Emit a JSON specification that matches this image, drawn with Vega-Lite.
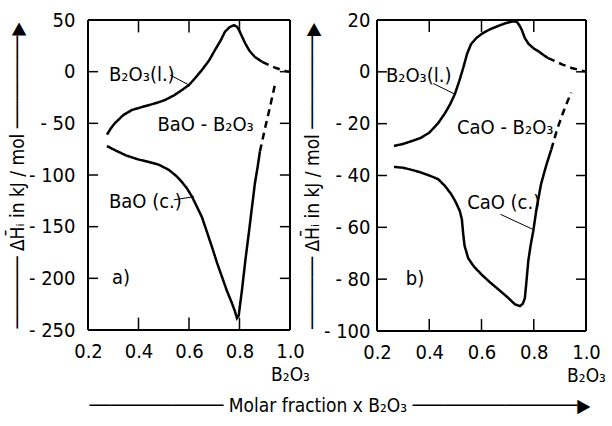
{
  "$schema": "https://vega.github.io/schema/vega-lite/v6.json",
  "background": "white",
  "padding": {"left": 8, "top": 10, "right": 0, "bottom": 0},
  "spacing": -7,
  "config": {
    "font": "DejaVu Sans Condensed, sans-serif",
    "view": {"stroke": null},
    "axis": {
      "domain": false, "grid": false, "ticks": false, "labelFlush": false,
      "labelColor": "black", "labelFontSize": 20, "labelFont": "DejaVu Sans Condensed, sans-serif",
      "titleColor": "black", "titleFontWeight": "normal", "titleFontSize": 19, "titleFont": "DejaVu Sans Condensed, sans-serif"
    },
    "text": {"font": "DejaVu Sans Condensed, sans-serif", "fontSize": 20, "color": "black"}
  },
  "title": {
    "text": "───────────── Molar fraction x B₂O₃ ────────────────▶",
    "orient": "bottom", "anchor": "middle", "fontSize": 19, "fontWeight": "normal", "color": "black", "offset": 12, "dx": 33,
    "font": "DejaVu Sans Condensed, sans-serif"
  },
  "datasets": {
    "curvesA": [
      {"x": 0.275, "y": -61, "part": "u-solid", "style": "solid"},
      {"x": 0.29, "y": -55, "part": "u-solid", "style": "solid"},
      {"x": 0.307, "y": -49.7, "part": "u-solid", "style": "solid"},
      {"x": 0.34, "y": -42, "part": "u-solid", "style": "solid"},
      {"x": 0.374, "y": -37.1, "part": "u-solid", "style": "solid"},
      {"x": 0.41, "y": -34.5, "part": "u-solid", "style": "solid"},
      {"x": 0.442, "y": -32.3, "part": "u-solid", "style": "solid"},
      {"x": 0.475, "y": -30, "part": "u-solid", "style": "solid"},
      {"x": 0.505, "y": -27.4, "part": "u-solid", "style": "solid"},
      {"x": 0.54, "y": -23, "part": "u-solid", "style": "solid"},
      {"x": 0.572, "y": -17.8, "part": "u-solid", "style": "solid"},
      {"x": 0.6, "y": -12.9, "part": "u-solid", "style": "solid"},
      {"x": 0.625, "y": -6, "part": "u-solid", "style": "solid"},
      {"x": 0.651, "y": 1.6, "part": "u-solid", "style": "solid"},
      {"x": 0.68, "y": 11, "part": "u-solid", "style": "solid"},
      {"x": 0.703, "y": 21, "part": "u-solid", "style": "solid"},
      {"x": 0.725, "y": 30, "part": "u-solid", "style": "solid"},
      {"x": 0.742, "y": 38.4, "part": "u-solid", "style": "solid"},
      {"x": 0.76, "y": 43, "part": "u-solid", "style": "solid"},
      {"x": 0.778, "y": 45, "part": "u-solid", "style": "solid"},
      {"x": 0.79, "y": 43.5, "part": "u-solid", "style": "solid"},
      {"x": 0.798, "y": 40.3, "part": "u-solid", "style": "solid"},
      {"x": 0.81, "y": 34, "part": "u-solid", "style": "solid"},
      {"x": 0.822, "y": 27.7, "part": "u-solid", "style": "solid"},
      {"x": 0.84, "y": 20, "part": "u-solid", "style": "solid"},
      {"x": 0.861, "y": 14.2, "part": "u-solid", "style": "solid"},
      {"x": 0.89, "y": 9.5, "part": "u-solid", "style": "solid"},
      {"x": 0.89, "y": 9.5, "part": "u-dash", "style": "dashed"},
      {"x": 0.917, "y": 6.4, "part": "u-dash", "style": "dashed"},
      {"x": 0.945, "y": 3.5, "part": "u-dash", "style": "dashed"},
      {"x": 0.968, "y": 1.6, "part": "u-dash", "style": "dashed"},
      {"x": 0.985, "y": 0.5, "part": "u-dash", "style": "dashed"},
      {"x": 1.0, "y": 0, "part": "u-dash", "style": "dashed"},
      {"x": 0.275, "y": -72, "part": "l-solid", "style": "solid"},
      {"x": 0.307, "y": -76, "part": "l-solid", "style": "solid"},
      {"x": 0.35, "y": -81, "part": "l-solid", "style": "solid"},
      {"x": 0.4, "y": -85, "part": "l-solid", "style": "solid"},
      {"x": 0.442, "y": -87.4, "part": "l-solid", "style": "solid"},
      {"x": 0.48, "y": -90, "part": "l-solid", "style": "solid"},
      {"x": 0.52, "y": -95, "part": "l-solid", "style": "solid"},
      {"x": 0.55, "y": -101, "part": "l-solid", "style": "solid"},
      {"x": 0.572, "y": -106.8, "part": "l-solid", "style": "solid"},
      {"x": 0.592, "y": -113, "part": "l-solid", "style": "solid"},
      {"x": 0.612, "y": -121, "part": "l-solid", "style": "solid"},
      {"x": 0.63, "y": -130, "part": "l-solid", "style": "solid"},
      {"x": 0.651, "y": -140.7, "part": "l-solid", "style": "solid"},
      {"x": 0.671, "y": -155, "part": "l-solid", "style": "solid"},
      {"x": 0.691, "y": -169.7, "part": "l-solid", "style": "solid"},
      {"x": 0.711, "y": -185, "part": "l-solid", "style": "solid"},
      {"x": 0.731, "y": -198.8, "part": "l-solid", "style": "solid"},
      {"x": 0.75, "y": -212, "part": "l-solid", "style": "solid"},
      {"x": 0.77, "y": -224, "part": "l-solid", "style": "solid"},
      {"x": 0.782, "y": -232, "part": "l-solid", "style": "solid"},
      {"x": 0.79, "y": -238.5, "part": "l-solid", "style": "solid"},
      {"x": 0.797, "y": -236, "part": "l-solid", "style": "solid"},
      {"x": 0.803, "y": -224, "part": "l-solid", "style": "solid"},
      {"x": 0.81, "y": -211, "part": "l-solid", "style": "solid"},
      {"x": 0.823, "y": -183, "part": "l-solid", "style": "solid"},
      {"x": 0.837, "y": -156, "part": "l-solid", "style": "solid"},
      {"x": 0.85, "y": -130, "part": "l-solid", "style": "solid"},
      {"x": 0.861, "y": -108, "part": "l-solid", "style": "solid"},
      {"x": 0.872, "y": -92, "part": "l-solid", "style": "solid"},
      {"x": 0.881, "y": -77, "part": "l-solid", "style": "solid"},
      {"x": 0.881, "y": -77, "part": "l-dash", "style": "dashed"},
      {"x": 0.9, "y": -56, "part": "l-dash", "style": "dashed"},
      {"x": 0.92, "y": -35, "part": "l-dash", "style": "dashed"},
      {"x": 0.94, "y": -13, "part": "l-dash", "style": "dashed"}
    ],
    "curvesB": [
      {"x": 0.265, "y": -28.6, "part": "u-solid", "style": "solid"},
      {"x": 0.3, "y": -27.8, "part": "u-solid", "style": "solid"},
      {"x": 0.34, "y": -26.5, "part": "u-solid", "style": "solid"},
      {"x": 0.367, "y": -25.5, "part": "u-solid", "style": "solid"},
      {"x": 0.4, "y": -23.5, "part": "u-solid", "style": "solid"},
      {"x": 0.434, "y": -19.8, "part": "u-solid", "style": "solid"},
      {"x": 0.46, "y": -16, "part": "u-solid", "style": "solid"},
      {"x": 0.48, "y": -12.5, "part": "u-solid", "style": "solid"},
      {"x": 0.498, "y": -8.6, "part": "u-solid", "style": "solid"},
      {"x": 0.515, "y": -3.5, "part": "u-solid", "style": "solid"},
      {"x": 0.53, "y": 1.5, "part": "u-solid", "style": "solid"},
      {"x": 0.545, "y": 7, "part": "u-solid", "style": "solid"},
      {"x": 0.56, "y": 10.7, "part": "u-solid", "style": "solid"},
      {"x": 0.58, "y": 13, "part": "u-solid", "style": "solid"},
      {"x": 0.6, "y": 14.6, "part": "u-solid", "style": "solid"},
      {"x": 0.63, "y": 16.3, "part": "u-solid", "style": "solid"},
      {"x": 0.664, "y": 17.7, "part": "u-solid", "style": "solid"},
      {"x": 0.69, "y": 18.7, "part": "u-solid", "style": "solid"},
      {"x": 0.72, "y": 19.5, "part": "u-solid", "style": "solid"},
      {"x": 0.735, "y": 19.3, "part": "u-solid", "style": "solid"},
      {"x": 0.745, "y": 18, "part": "u-solid", "style": "solid"},
      {"x": 0.755, "y": 16, "part": "u-solid", "style": "solid"},
      {"x": 0.766, "y": 13, "part": "u-solid", "style": "solid"},
      {"x": 0.78, "y": 10.8, "part": "u-solid", "style": "solid"},
      {"x": 0.8, "y": 9, "part": "u-solid", "style": "solid"},
      {"x": 0.817, "y": 8, "part": "u-solid", "style": "solid"},
      {"x": 0.84, "y": 6.3, "part": "u-solid", "style": "solid"},
      {"x": 0.855, "y": 5.3, "part": "u-solid", "style": "solid"},
      {"x": 0.855, "y": 5.3, "part": "u-dash", "style": "dashed"},
      {"x": 0.88, "y": 4.2, "part": "u-dash", "style": "dashed"},
      {"x": 0.91, "y": 2.8, "part": "u-dash", "style": "dashed"},
      {"x": 0.945, "y": 1.5, "part": "u-dash", "style": "dashed"},
      {"x": 0.97, "y": 0.8, "part": "u-dash", "style": "dashed"},
      {"x": 0.99, "y": 0.3, "part": "u-dash", "style": "dashed"},
      {"x": 1.0, "y": 0.2, "part": "u-dash", "style": "dashed"},
      {"x": 0.265, "y": -36.7, "part": "l-solid", "style": "solid"},
      {"x": 0.3, "y": -37, "part": "l-solid", "style": "solid"},
      {"x": 0.34, "y": -38, "part": "l-solid", "style": "solid"},
      {"x": 0.367, "y": -38.8, "part": "l-solid", "style": "solid"},
      {"x": 0.4, "y": -40, "part": "l-solid", "style": "solid"},
      {"x": 0.434, "y": -41.4, "part": "l-solid", "style": "solid"},
      {"x": 0.46, "y": -44, "part": "l-solid", "style": "solid"},
      {"x": 0.484, "y": -47.2, "part": "l-solid", "style": "solid"},
      {"x": 0.5, "y": -50, "part": "l-solid", "style": "solid"},
      {"x": 0.517, "y": -53.7, "part": "l-solid", "style": "solid"},
      {"x": 0.525, "y": -57, "part": "l-solid", "style": "solid"},
      {"x": 0.53, "y": -62.6, "part": "l-solid", "style": "solid"},
      {"x": 0.535, "y": -67, "part": "l-solid", "style": "solid"},
      {"x": 0.549, "y": -71.9, "part": "l-solid", "style": "solid"},
      {"x": 0.57, "y": -75, "part": "l-solid", "style": "solid"},
      {"x": 0.598, "y": -78, "part": "l-solid", "style": "solid"},
      {"x": 0.63, "y": -81, "part": "l-solid", "style": "solid"},
      {"x": 0.664, "y": -83.9, "part": "l-solid", "style": "solid"},
      {"x": 0.7, "y": -87, "part": "l-solid", "style": "solid"},
      {"x": 0.728, "y": -89.7, "part": "l-solid", "style": "solid"},
      {"x": 0.747, "y": -90.4, "part": "l-solid", "style": "solid"},
      {"x": 0.758, "y": -89.5, "part": "l-solid", "style": "solid"},
      {"x": 0.766, "y": -87.3, "part": "l-solid", "style": "solid"},
      {"x": 0.772, "y": -81, "part": "l-solid", "style": "solid"},
      {"x": 0.779, "y": -73, "part": "l-solid", "style": "solid"},
      {"x": 0.788, "y": -67, "part": "l-solid", "style": "solid"},
      {"x": 0.798, "y": -61.5, "part": "l-solid", "style": "solid"},
      {"x": 0.812, "y": -52, "part": "l-solid", "style": "solid"},
      {"x": 0.828, "y": -43.3, "part": "l-solid", "style": "solid"},
      {"x": 0.848, "y": -36, "part": "l-solid", "style": "solid"},
      {"x": 0.867, "y": -30, "part": "l-solid", "style": "solid"},
      {"x": 0.867, "y": -30, "part": "l-dash", "style": "dashed"},
      {"x": 0.89, "y": -22, "part": "l-dash", "style": "dashed"},
      {"x": 0.915, "y": -15, "part": "l-dash", "style": "dashed"},
      {"x": 0.943, "y": -8, "part": "l-dash", "style": "dashed"}
    ],
    "labelsA": [
      {"x": 0.283, "y": -3, "text": "B₂O₃(l.)"},
      {"x": 0.475, "y": -52, "text": "BaO - B₂O₃"},
      {"x": 0.283, "y": -126, "text": "BaO (c.)"},
      {"x": 0.295, "y": -200, "text": "a)"}
    ],
    "labelsB": [
      {"x": 0.234, "y": -1.6, "text": "B₂O₃(l.)"},
      {"x": 0.506, "y": -21.7, "text": "CaO - B₂O₃"},
      {"x": 0.545, "y": -50.7, "text": "CaO (c.)"},
      {"x": 0.31, "y": -80, "text": "b)"}
    ],
    "leadersA": [
      {"x": 0.525, "y": -3.2, "x2": 0.6, "y2": -12.9},
      {"x": 0.54, "y": -124, "x2": 0.62, "y2": -121}
    ],
    "leadersB": [
      {"x": 0.415, "y": -4.5, "x2": 0.498, "y2": -8.6},
      {"x": 0.673, "y": -55, "x2": 0.795, "y2": -60.7}
    ],
    "edgesA": [
      {"x": 0.2, "y": -250, "x2": 1.0, "y2": -250},
      {"x": 0.2, "y": 50, "x2": 1.0, "y2": 50},
      {"x": 0.2, "y": -250, "x2": 0.2, "y2": 50},
      {"x": 1.0, "y": -250, "x2": 1.0, "y2": 50}
    ],
    "edgesB": [
      {"x": 0.2, "y": -100, "x2": 1.0, "y2": -100},
      {"x": 0.2, "y": 20, "x2": 1.0, "y2": 20},
      {"x": 0.2, "y": -100, "x2": 0.2, "y2": 20},
      {"x": 1.0, "y": -100, "x2": 1.0, "y2": 20}
    ],
    "ticksA": [
      {"x": 0.4, "y": -250, "x2": 0.4, "y2": -238},
      {"x": 0.6, "y": -250, "x2": 0.6, "y2": -238},
      {"x": 0.8, "y": -250, "x2": 0.8, "y2": -238},
      {"x": 0.4, "y": 50, "x2": 0.4, "y2": 38},
      {"x": 0.6, "y": 50, "x2": 0.6, "y2": 38},
      {"x": 0.8, "y": 50, "x2": 0.8, "y2": 38},
      {"x": 0.2, "y": -200, "x2": 0.24, "y2": -200},
      {"x": 0.2, "y": -150, "x2": 0.24, "y2": -150},
      {"x": 0.2, "y": -100, "x2": 0.24, "y2": -100},
      {"x": 0.2, "y": -50, "x2": 0.24, "y2": -50},
      {"x": 0.2, "y": 0, "x2": 0.24, "y2": 0},
      {"x": 1.0, "y": -200, "x2": 0.96, "y2": -200},
      {"x": 1.0, "y": -150, "x2": 0.96, "y2": -150},
      {"x": 1.0, "y": -100, "x2": 0.96, "y2": -100},
      {"x": 1.0, "y": -50, "x2": 0.96, "y2": -50},
      {"x": 1.0, "y": 0, "x2": 0.96, "y2": 0}
    ],
    "ticksB": [
      {"x": 0.4, "y": -100, "x2": 0.4, "y2": -95.4},
      {"x": 0.6, "y": -100, "x2": 0.6, "y2": -95.4},
      {"x": 0.8, "y": -100, "x2": 0.8, "y2": -95.4},
      {"x": 0.4, "y": 20, "x2": 0.4, "y2": 15.4},
      {"x": 0.6, "y": 20, "x2": 0.6, "y2": 15.4},
      {"x": 0.8, "y": 20, "x2": 0.8, "y2": 15.4},
      {"x": 0.2, "y": -80, "x2": 0.238, "y2": -80},
      {"x": 0.2, "y": -60, "x2": 0.238, "y2": -60},
      {"x": 0.2, "y": -40, "x2": 0.238, "y2": -40},
      {"x": 0.2, "y": -20, "x2": 0.238, "y2": -20},
      {"x": 0.2, "y": 0, "x2": 0.238, "y2": 0},
      {"x": 1.0, "y": -80, "x2": 0.962, "y2": -80},
      {"x": 1.0, "y": -60, "x2": 0.962, "y2": -60},
      {"x": 1.0, "y": -40, "x2": 0.962, "y2": -40},
      {"x": 1.0, "y": -20, "x2": 0.962, "y2": -20},
      {"x": 1.0, "y": 0, "x2": 0.962, "y2": 0}
    ]
  },
  "hconcat": [
    {
      "width": 202, "height": 310,
      "layer": [
        {
          "data": {"name": "curvesA"},
          "mark": {"type": "line", "color": "black", "strokeWidth": 2.5},
          "encoding": {
            "x": {"field": "x", "type": "quantitative", "scale": {"domain": [0.2, 1.0], "nice": false, "zero": false},
                  "axis": {"orient": "bottom", "values": [0.2, 0.4, 0.6, 0.8, 1.0], "format": ".1f", "labelPadding": 11, "title": "B₂O₃", "titleAnchor": "end", "titleAlign": "center", "titlePadding": 4}},
            "y": {"field": "y", "type": "quantitative", "scale": {"domain": [-250, 50], "nice": false, "zero": false},
                  "axis": {"orient": "left", "values": [-250, -200, -150, -100, -50, 0, 50], "labelExpr": "datum.value < 0 ? '- ' + abs(datum.value) : datum.value", "labelPadding": 13, "title": "───────  ΔH̄ᵢ in kJ / mol  ─────────▶", "titlePadding": 1}},
            "detail": {"field": "part"},
            "strokeDash": {"field": "style", "type": "nominal", "scale": {"domain": ["solid", "dashed"], "range": [[1, 0], [7, 5]]}, "legend": null}
          }
        },
        {
          "data": {"name": "labelsA"},
          "mark": {"type": "text", "align": "left", "baseline": "middle"},
          "encoding": {
            "x": {"field": "x", "type": "quantitative"},
            "y": {"field": "y", "type": "quantitative"},
            "text": {"field": "text"}
          }
        },
        {
          "data": {"name": "leadersA"},
          "mark": {"type": "rule", "color": "black", "strokeWidth": 1},
          "encoding": {
            "x": {"field": "x", "type": "quantitative"},
            "y": {"field": "y", "type": "quantitative"},
            "x2": {"field": "x2"},
            "y2": {"field": "y2"}
          }
        },
        {
          "data": {"name": "edgesA"},
          "mark": {"type": "rule", "color": "black", "strokeWidth": 2},
          "encoding": {
            "x": {"field": "x", "type": "quantitative"},
            "y": {"field": "y", "type": "quantitative"},
            "x2": {"field": "x2"},
            "y2": {"field": "y2"}
          }
        },
        {
          "data": {"name": "ticksA"},
          "mark": {"type": "rule", "color": "black", "strokeWidth": 1.5},
          "encoding": {
            "x": {"field": "x", "type": "quantitative"},
            "y": {"field": "y", "type": "quantitative"},
            "x2": {"field": "x2"},
            "y2": {"field": "y2"}
          }
        }
      ]
    },
    {
      "width": 209, "height": 311,
      "layer": [
        {
          "data": {"name": "curvesB"},
          "mark": {"type": "line", "color": "black", "strokeWidth": 2.5},
          "encoding": {
            "x": {"field": "x", "type": "quantitative", "scale": {"domain": [0.2, 1.0], "nice": false, "zero": false},
                  "axis": {"orient": "bottom", "values": [0.2, 0.4, 0.6, 0.8, 1.0], "format": ".1f", "labelPadding": 11, "title": "B₂O₃", "titleAnchor": "end", "titleAlign": "center", "titlePadding": 4}},
            "y": {"field": "y", "type": "quantitative", "scale": {"domain": [-100, 20], "nice": false, "zero": false},
                  "axis": {"orient": "left", "values": [-100, -80, -60, -40, -20, 0, 20], "labelExpr": "datum.value < 0 ? '- ' + abs(datum.value) : datum.value", "labelPadding": 7, "title": "───────  ΔH̄ᵢ in kJ / mol  ─────────▶", "titlePadding": 1}},
            "detail": {"field": "part"},
            "strokeDash": {"field": "style", "type": "nominal", "scale": {"domain": ["solid", "dashed"], "range": [[1, 0], [7, 5]]}, "legend": null}
          }
        },
        {
          "data": {"name": "labelsB"},
          "mark": {"type": "text", "align": "left", "baseline": "middle"},
          "encoding": {
            "x": {"field": "x", "type": "quantitative"},
            "y": {"field": "y", "type": "quantitative"},
            "text": {"field": "text"}
          }
        },
        {
          "data": {"name": "leadersB"},
          "mark": {"type": "rule", "color": "black", "strokeWidth": 1},
          "encoding": {
            "x": {"field": "x", "type": "quantitative"},
            "y": {"field": "y", "type": "quantitative"},
            "x2": {"field": "x2"},
            "y2": {"field": "y2"}
          }
        },
        {
          "data": {"name": "edgesB"},
          "mark": {"type": "rule", "color": "black", "strokeWidth": 2},
          "encoding": {
            "x": {"field": "x", "type": "quantitative"},
            "y": {"field": "y", "type": "quantitative"},
            "x2": {"field": "x2"},
            "y2": {"field": "y2"}
          }
        },
        {
          "data": {"name": "ticksB"},
          "mark": {"type": "rule", "color": "black", "strokeWidth": 1.5},
          "encoding": {
            "x": {"field": "x", "type": "quantitative"},
            "y": {"field": "y", "type": "quantitative"},
            "x2": {"field": "x2"},
            "y2": {"field": "y2"}
          }
        }
      ]
    }
  ]
}
